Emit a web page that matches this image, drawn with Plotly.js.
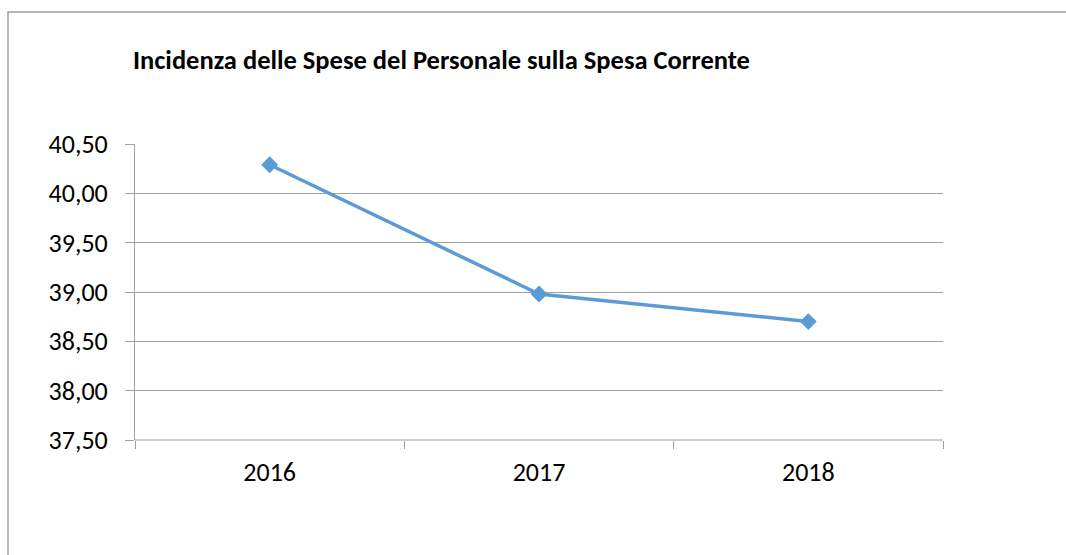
<!DOCTYPE html>
<html>
<head>
<meta charset="utf-8">
<script src="https://cdn.plot.ly/plotly-3.0.1.min.js"></script>
<style>
html,body{margin:0;padding:0;background:#fff;}
#chart{width:1066px;height:555px;}
</style>
</head>
<body>
<div id="chart"></div>
<script>
var categories = ["2016", "2017", "2018"];
var values = [40.29, 38.98, 38.70];
var yTicks = [37.5, 38.0, 38.5, 39.0, 39.5, 40.0, 40.5];
var titleText = "Incidenza delle Spese del Personale sulla Spesa Corrente";

var L = 135, R = 943, T = 144, B = 440, W = 1066, H = 555;
function px(x){ return (x - L) / (R - L); }
function py(y){ return (B - y) / (B - T); }

var trace = {
  x: categories,
  y: values,
  type: "scatter",
  mode: "lines+markers",
  line: {color: "#5b9bd5", width: 3.5},
  marker: {symbol: "diamond", size: 13, color: "#5b9bd5"},
  hoverinfo: "skip"
};

var layout = {
  width: W, height: H,
  margin: {l: L, r: W - R, t: T, b: H - B, pad: 0},
  paper_bgcolor: "#ffffff",
  plot_bgcolor: "#ffffff",
  showlegend: false,
  separators: ",.",
  font: {family: "Carlito, Lato, 'Open Sans', sans-serif", color: "#000000"},
  title: {
    text: "<b>" + titleText + "</b>",
    x: 133 / W, xanchor: "left", xref: "container",
    y: 1 - 60 / H, yanchor: "middle", yref: "container",
    font: {size: 26.5, color: "#000000"}
  },
  xaxis: {
    type: "category",
    range: [-0.5, 2.5],
    showgrid: false,
    zeroline: false,
    showline: false,
    ticks: "outside",
    tickson: "boundaries",
    ticklen: 8,
    tickcolor: "#a0a0a0",
    tickwidth: 1,
    ticklabelstandoff: 14,
    tickfont: {size: 26, color: "#000000"},
    automargin: false
  },
  yaxis: {
    range: [37.5, 40.5],
    tickvals: yTicks,
    tickformat: ".2f",
    showgrid: true,
    gridcolor: "#a0a0a0",
    gridwidth: 1,
    zeroline: false,
    showline: true,
    linecolor: "#a0a0a0",
    linewidth: 1,
    ticks: "outside",
    ticklen: 9,
    tickcolor: "#a0a0a0",
    ticklabelstandoff: 12,
    tickfont: {size: 26, color: "#000000"},
    automargin: false
  },
  shapes: [
    {type: "rect", xref: "paper", yref: "paper",
     x0: px(8), x1: px(1080), y0: py(570), y1: py(12),
     line: {color: "#a0a0a0", width: 1.5}, fillcolor: "rgba(0,0,0,0)", layer: "below"},
    {type: "line", xref: "paper", yref: "paper",
     x0: 0, x1: 1, y0: 0, y1: 0,
     line: {color: "#a0a0a0", width: 1}}
  ]
};

Plotly.newPlot("chart", [trace], layout, {displayModeBar: false, staticPlot: true});
</script>
</body>
</html>
